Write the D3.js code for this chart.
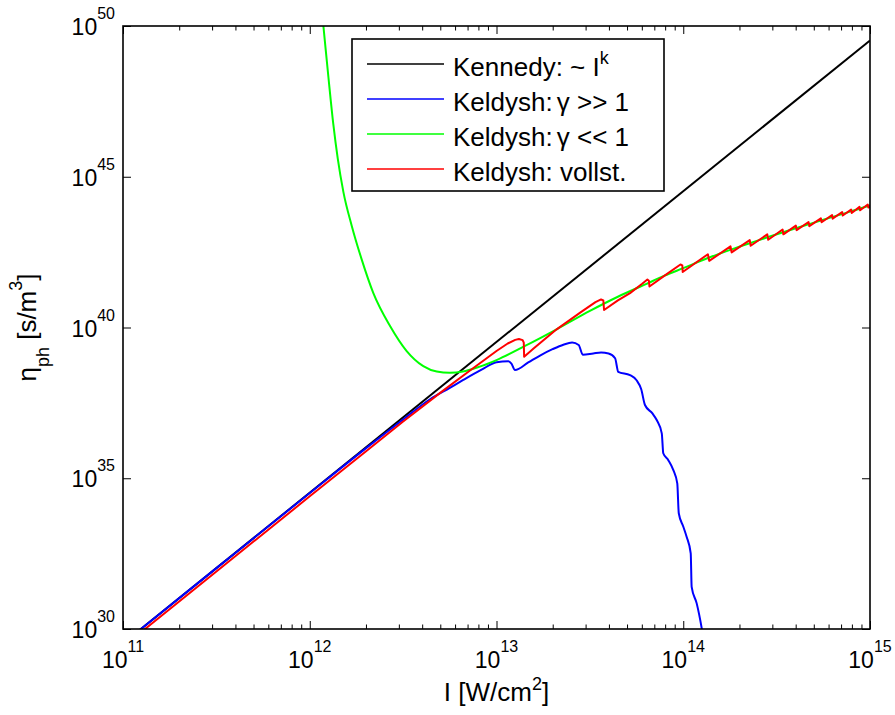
<!DOCTYPE html>
<html>
<head>
<meta charset="utf-8">
<script src="https://cdn.jsdelivr.net/npm/d3@7"></script>
<style>
  body { margin: 0; background: #fff; }
  text { font-family: "Liberation Sans", Arial, Helvetica, sans-serif; fill: #000; }
</style>
</head>
<body>
<svg id="chart" width="895" height="715"></svg>
<script>
// Decades shown on the axes
const intensityTicks = [1e11, 1e12, 1e13, 1e14, 1e15];
const etaTicks = [1e30, 1e35, 1e40, 1e45, 1e50];

// Series as [log10 I (W/cm^2), log10 eta_ph (s/m^3)]
const kennedy = [[11.0, 29.52], [15.0, 49.52]];

const keldyshMPI = [
  [11.0, 29.52], [11.5, 32.02], [12.0, 34.51], [12.3, 35.99], [12.5, 36.95],
  [12.644, 37.62], [12.75, 38.0], [12.822, 38.26], [12.92, 38.6], [13.0, 38.85],
  [13.063, 38.88], [13.08, 38.80], [13.099, 38.59], [13.17, 38.84], [13.233, 39.07],
  [13.30, 39.28], [13.358, 39.43], [13.405, 39.50], [13.44, 39.42], [13.462, 39.10],
  [13.518, 39.14], [13.56, 39.17], [13.60, 39.14], [13.635, 38.98], [13.652, 38.53],
  [13.715, 38.42], [13.75, 38.25], [13.775, 37.95], [13.795, 37.43], [13.835, 37.15],
  [13.858, 36.93], [13.885, 36.49], [13.893, 35.83], [13.92, 35.6], [13.947, 35.27],
  [13.968, 34.83], [13.976, 33.84], [14.0, 33.4], [14.018, 33.06], [14.040, 32.51],
  [14.045, 31.40], [14.072, 30.85], [14.099, 30.02], [14.11, 29.6]
];

const keldyshTunnel = [
  [12.06, 50.8], [12.073, 50.0], [12.10, 48.3], [12.126, 46.75], [12.15, 45.6],
  [12.18, 44.5], [12.225, 43.37], [12.278, 42.26], [12.34, 41.15], [12.43, 40.05],
  [12.519, 39.22], [12.608, 38.72], [12.68, 38.54], [12.75, 38.50], [12.82, 38.54],
  [12.9, 38.68], [13.0, 38.92], [13.15, 39.38], [13.322, 39.94], [13.5, 40.55],
  [13.65, 41.02], [13.8, 41.44], [13.9, 41.72], [14.0, 41.97], [14.139, 42.32],
  [14.259, 42.59], [14.361, 42.805], [14.455, 43.0], [14.607, 43.30], [14.741, 43.555],
  [14.854, 43.77], [14.947, 43.945], [15.0, 44.05]
];

const keldyshFull = [
  [11.0, 29.41], [11.5, 31.91], [12.0, 34.40], [12.3, 35.89], [12.5, 36.88],
  [12.7, 37.84], [12.86, 38.58], [13.0, 39.22], [13.06, 39.47], [13.10, 39.59],
  [13.12, 39.62], [13.14, 39.58], [13.146, 39.50], [13.148, 39.03],
  [13.2, 39.31], [13.322, 39.94], [13.45, 40.50], [13.53, 40.84], [13.56, 40.93],
  [13.572, 40.90], [13.576, 40.58],
  [13.65, 40.90], [13.715, 41.14], [13.78, 41.45], [13.808, 41.59], [13.816, 41.55],
  [13.819, 41.36],
  [13.9, 41.72], [13.985, 42.09], [13.995, 42.06], [13.997, 41.84],
  [14.132, 42.43], [14.139, 42.21],
  [14.253, 42.69], [14.259, 42.49],
  [14.356, 42.90], [14.361, 42.71],
  [14.450, 43.09], [14.455, 42.91],
  [14.532, 43.25], [14.536, 43.09],
  [14.603, 43.38], [14.607, 43.23],
  [14.671, 43.50], [14.675, 43.36],
  [14.737, 43.62], [14.741, 43.49],
  [14.797, 43.73], [14.800, 43.61],
  [14.851, 43.83], [14.854, 43.715],
  [14.899, 43.91], [14.902, 43.80],
  [14.944, 44.00], [14.947, 43.89],
  [14.988, 44.08], [14.991, 43.98],
  [15.0, 44.00]
];

const seriesColors = ["#000000", "#0000ff", "#00ff00", "#ff0000"];

const box = { left: 123, top: 26, right: 870, bottom: 629 };
const svg = d3.select("#chart");

const x = d3.scaleLog().domain([1e11, 1e15]).range([box.left, box.right]);
const y = d3.scaleLog().domain([1e30, 1e50]).range([box.bottom, box.top]);

// minor ticks on the intensity axis: 2..9 x each decade
const minorX = [];
for (let d = 11; d < 15; d++) for (let k = 2; k <= 9; k++) minorX.push(k * Math.pow(10, d));

svg.append("defs").append("clipPath").attr("id", "plotClip")
  .append("rect")
  .attr("x", box.left).attr("y", box.top)
  .attr("width", box.right - box.left).attr("height", box.bottom - box.top);

// curves
const line = d3.line()
  .x(d => x(Math.pow(10, d[0])))
  .y(d => y(Math.pow(10, d[1])));

const plot = svg.append("g").attr("clip-path", "url(#plotClip)");
const series = [kennedy, keldyshMPI, keldyshTunnel, keldyshFull];
const curves = [d3.curveLinear, d3.curveMonotoneX, d3.curveMonotoneX, d3.curveLinear];
series.forEach((data, i) => {
  plot.append("path")
    .datum(data)
    .attr("fill", "none")
    .attr("stroke", seriesColors[i])
    .attr("stroke-width", 2)
    .attr("stroke-linejoin", "round")
    .attr("d", line.curve(curves[i]));
});

// inward ticks on all four sides
function styleAxis(g) {
  g.select(".domain").remove();
  g.selectAll("line").attr("stroke", "#000").attr("stroke-width", 1);
  g.selectAll("text").remove();
}
const major = 8, minor = 4.5;
svg.append("g").attr("transform", `translate(0,${box.bottom})`)
  .call(d3.axisBottom(x).tickValues(intensityTicks).tickSize(-major)).call(styleAxis);
svg.append("g").attr("transform", `translate(0,${box.bottom})`)
  .call(d3.axisBottom(x).tickValues(minorX).tickSize(-minor)).call(styleAxis);
svg.append("g").attr("transform", `translate(0,${box.top})`)
  .call(d3.axisTop(x).tickValues(intensityTicks).tickSize(-major)).call(styleAxis);
svg.append("g").attr("transform", `translate(0,${box.top})`)
  .call(d3.axisTop(x).tickValues(minorX).tickSize(-minor)).call(styleAxis);
svg.append("g").attr("transform", `translate(${box.left},0)`)
  .call(d3.axisLeft(y).tickValues(etaTicks).tickSize(-major)).call(styleAxis);
svg.append("g").attr("transform", `translate(${box.right},0)`)
  .call(d3.axisRight(y).tickValues(etaTicks).tickSize(-major)).call(styleAxis);

// axes frame
svg.append("rect")
  .attr("x", box.left).attr("y", box.top)
  .attr("width", box.right - box.left).attr("height", box.bottom - box.top)
  .attr("fill", "none").attr("stroke", "#000").attr("stroke-width", 1.6);

// tick labels as powers of ten
svg.append("g").selectAll("text").data(intensityTicks).join("text")
  .attr("x", d => x(d)).attr("y", box.bottom + 39)
  .attr("text-anchor", "middle").style("font-size", "23px")
  .each(function (d) {
    const t = d3.select(this);
    t.append("tspan").text("10");
    t.append("tspan").attr("dy", -16).style("font-size", "16px").text(Math.round(Math.log10(d)));
  });

svg.append("g").selectAll("text").data(etaTicks).join("text")
  .attr("x", box.left - 8).attr("y", d => y(d) + 9)
  .attr("text-anchor", "end").style("font-size", "23px")
  .each(function (d) {
    const t = d3.select(this);
    t.append("tspan").text("10");
    t.append("tspan").attr("dy", -16).style("font-size", "16px").text(Math.round(Math.log10(d)));
  });

// axis titles
const xt = svg.append("text")
  .attr("x", (box.left + box.right) / 2).attr("y", 701)
  .attr("text-anchor", "middle").style("font-size", "26px");
xt.append("tspan").text("I [W/cm");
xt.append("tspan").attr("dy", -11).style("font-size", "18px").text("2");
xt.append("tspan").attr("dy", 11).text("]");

const yt = svg.append("text")
  .attr("transform", `translate(36,${(box.top + box.bottom) / 2}) rotate(-90)`)
  .attr("text-anchor", "middle").style("font-size", "26px");
yt.append("tspan").text("η");
yt.append("tspan").attr("dy", 13).style("font-size", "18px").text("ph");
yt.append("tspan").attr("dy", -13).text(" [s/m");
yt.append("tspan").attr("dy", -14).style("font-size", "18px").text("3");
yt.append("tspan").attr("dy", 14).text("]");

// legend
const legend = svg.append("g");
legend.append("rect")
  .attr("x", 352).attr("y", 39).attr("width", 312).attr("height", 152)
  .attr("fill", "#fff").attr("stroke", "#000").attr("stroke-width", 1.6);

const legendLabels = [
  [["Kennedy: ~ I", 0, 26], ["k", -12, 18]],
  [["Keldysh:", 0, 26], ["γ >> 1", 0, 26, 4]],
  [["Keldysh:", 0, 26], ["γ << 1", 0, 26, 4]],
  [["Keldysh: vollst.", 0, 26]]
];
legendLabels.forEach((parts, i) => {
  const base = 75.5 + 35 * i;
  legend.append("line")
    .attr("x1", 367).attr("x2", 444)
    .attr("y1", base - 11.5).attr("y2", base - 11.5)
    .attr("stroke", seriesColors[i]).attr("stroke-width", 1.3);
  const t = legend.append("text").attr("x", 453).attr("y", base);
  parts.forEach(p => {
    t.append("tspan").attr("dy", p[1]).attr("dx", p[3] || 0)
      .style("font-size", p[2] + "px").text(p[0]);
  });
});
</script>
</body>
</html>
